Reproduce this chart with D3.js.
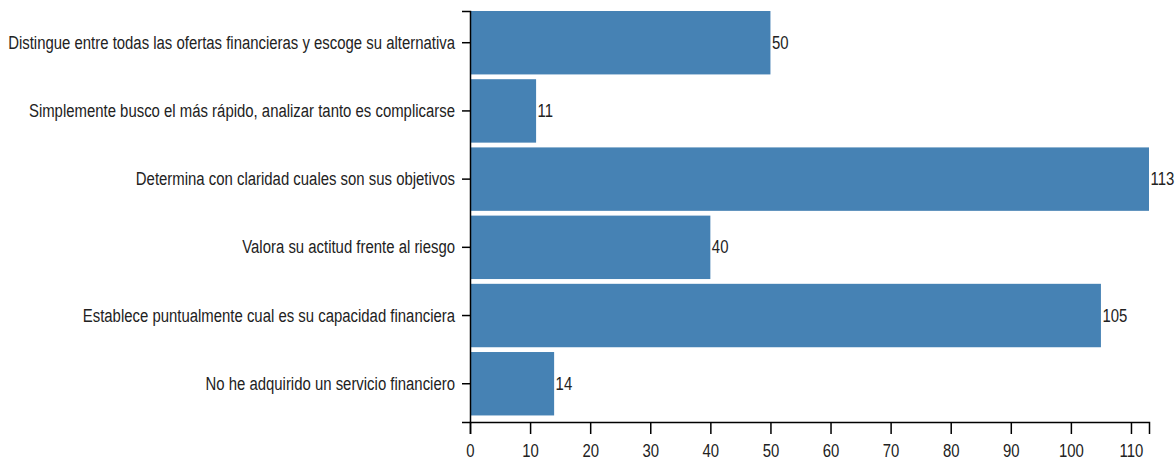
<!DOCTYPE html>
<meta charset="utf-8">
<style>
body { margin: 0; background: #fff; }
text { font-family: "Liberation Sans", Arial, sans-serif; font-size: 19px; fill: #222; }
.axis path, .axis line { stroke: #000; stroke-width: 1.5px; fill: none; }
.bar { fill: steelblue; }
</style>
<body></body>
<script src="https://cdnjs.cloudflare.com/ajax/libs/d3/7.8.5/d3.min.js"></script>
<script>
var categories = [
  "Distingue entre todas las ofertas financieras y escoge su alternativa",
  "Simplemente busco el más rápido, analizar tanto es complicarse",
  "Determina con claridad cuales son sus objetivos",
  "Valora su actitud frente al riesgo",
  "Establece puntualmente cual es su capacidad financiera",
  "No he adquirido un servicio financiero"
];
var counts = [50, 11, 113, 40, 105, 14];
var xTicks = [0, 10, 20, 30, 40, 50, 60, 70, 80, 90, 100, 110];

var width = 1175, height = 461;
var marginLeft = 470, marginTop = 11, plotW = 679, plotH = 411;
var squeeze = 0.785; // the labels in the original are horizontally condensed

var svg = d3.select("body").append("svg")
    .attr("width", width)
    .attr("height", height);

var x = d3.scaleLinear()
    .domain([0, d3.max(counts)])
    .range([0, plotW]);

var y = d3.scaleBand()
    .domain(categories)
    .range([0, plotH])
    .paddingInner(0.07)
    .paddingOuter(0.048)
    .align(0);

var g = svg.append("g")
    .attr("transform", "translate(" + marginLeft + "," + marginTop + ")");

g.selectAll(".bar")
    .data(counts)
  .enter().append("rect")
    .attr("class", "bar")
    .attr("x", 0)
    .attr("y", function(d, i) { return y(categories[i]); })
    .attr("width", function(d) { return x(d); })
    .attr("height", y.bandwidth());

g.selectAll(".value")
    .data(counts)
  .enter().append("text")
    .attr("class", "value")
    .attr("transform", function(d, i) {
      return "translate(" + (x(d) + 1.5) + "," + (y(categories[i]) + y.bandwidth() / 2) + ") scale(" + squeeze + ",1)";
    })
    .attr("dy", "0.32em")
    .text(function(d) { return d; });

g.append("g")
    .attr("class", "x axis")
    .attr("transform", "translate(0," + plotH + ")")
    .call(d3.axisBottom(x).tickValues(xTicks).tickSize(12).tickSizeOuter(12).tickPadding(10))
    .call(function(s) {
      s.selectAll("text")
        .attr("font-family", null).attr("font-size", null)
        .attr("transform", "scale(" + squeeze + ",1)");
    });

g.append("g")
    .attr("class", "y axis")
    .call(d3.axisLeft(y).tickSize(8).tickSizeOuter(8).tickPadding(7))
    .call(function(s) {
      s.selectAll("text")
        .attr("font-family", null).attr("font-size", null)
        .attr("x", -15 / squeeze)
        .attr("transform", "scale(" + squeeze + ",1)");
    });
</script>
